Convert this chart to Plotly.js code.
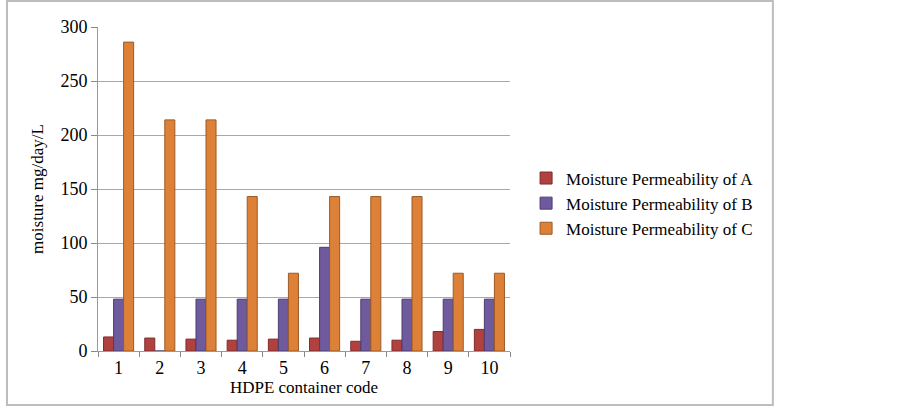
<!DOCTYPE html>
<html>
<head>
<meta charset="utf-8">
<script src="https://cdn.plot.ly/plotly-3.0.1.min.js"></script>
<style>html,body{margin:0;padding:0;background:#fff;}#chart{width:903px;height:407px;}</style>
</head>
<body>
<div id="chart"></div>
<script>
const categories = ['1','2','3','4','5','6','7','8','9','10'];
const seriesNames = ['Moisture Permeability of A','Moisture Permeability of B','Moisture Permeability of C'];
const valuesA = [13, 12, 11, 10, 11, 12, 9, 10, 18, 20];
const valuesB = [48, 0, 48, 48, 48, 96, 48, 48, 48, 48];
const valuesC = [286, 214, 214, 143, 72, 143, 143, 143, 72, 72];
const colors = ['#B0413E', '#6E5A9C', '#DD8138'];
const edgeColors = ['#7E2C2A', '#4C3E70', '#9C5A24'];

const allValues = [valuesA, valuesB, valuesC];
const data = allValues.map((v, i) => ({
  type: 'bar',
  name: seriesNames[i],
  x: categories,
  y: v,
  marker: {color: colors[i], line: {color: edgeColors[i], width: 1}}
}));

const fam = '"Liberation Serif", "Times New Roman", serif';
const font = {family: fam, size: 17, color: '#000'};

const layout = {
  width: 903, height: 407,
  margin: {l: 98, r: 393, t: 27, b: 56},
  paper_bgcolor: '#fff', plot_bgcolor: '#fff',
  font: font,
  barmode: 'group',
  bargap: 0.27,
  bargroupgap: 0,
  showlegend: true,
  legend: {x: 1.039, y: 0.588, xanchor: 'left', yanchor: 'top', font: {family: fam, size: 17, color: '#000'}, tracegroupgap: 0, itemwidth: 30, bgcolor: 'rgba(0,0,0,0)'},
  xaxis: {
    type: 'category',
    tickson: 'boundaries',
    ticks: 'outside', ticklen: 5, tickcolor: '#888',
    showline: true, linecolor: '#999', linewidth: 1,
    showgrid: false,
    tickfont: {family: fam, size: 18, color: '#000'},
    title: {text: 'HDPE container code', font: {family: fam, size: 17, color: '#000'}, standoff: 4}
  },
  yaxis: {
    range: [0, 300], dtick: 50,
    ticks: 'outside', ticklen: 6, tickcolor: '#888',
    showline: true, linecolor: '#999', linewidth: 1,
    showgrid: true, gridcolor: '#A8A8A8', gridwidth: 1,
    zeroline: false,
    tickfont: {family: fam, size: 18, color: '#000'},
    title: {text: 'moisture mg/day/L', font: {family: fam, size: 17, color: '#000'}, standoff: 12}
  },
  shapes: [{
    type: 'rect', xref: 'paper', yref: 'paper',
    x0: -0.2209, x1: 1.638, y0: -0.1667, y1: 1.080,
    line: {color: '#BDBDBD', width: 2}, fillcolor: 'rgba(0,0,0,0)', layer: 'below'
  }]
};

Plotly.newPlot('chart', data, layout, {displayModeBar: false, staticPlot: true});
</script>
</body>
</html>
